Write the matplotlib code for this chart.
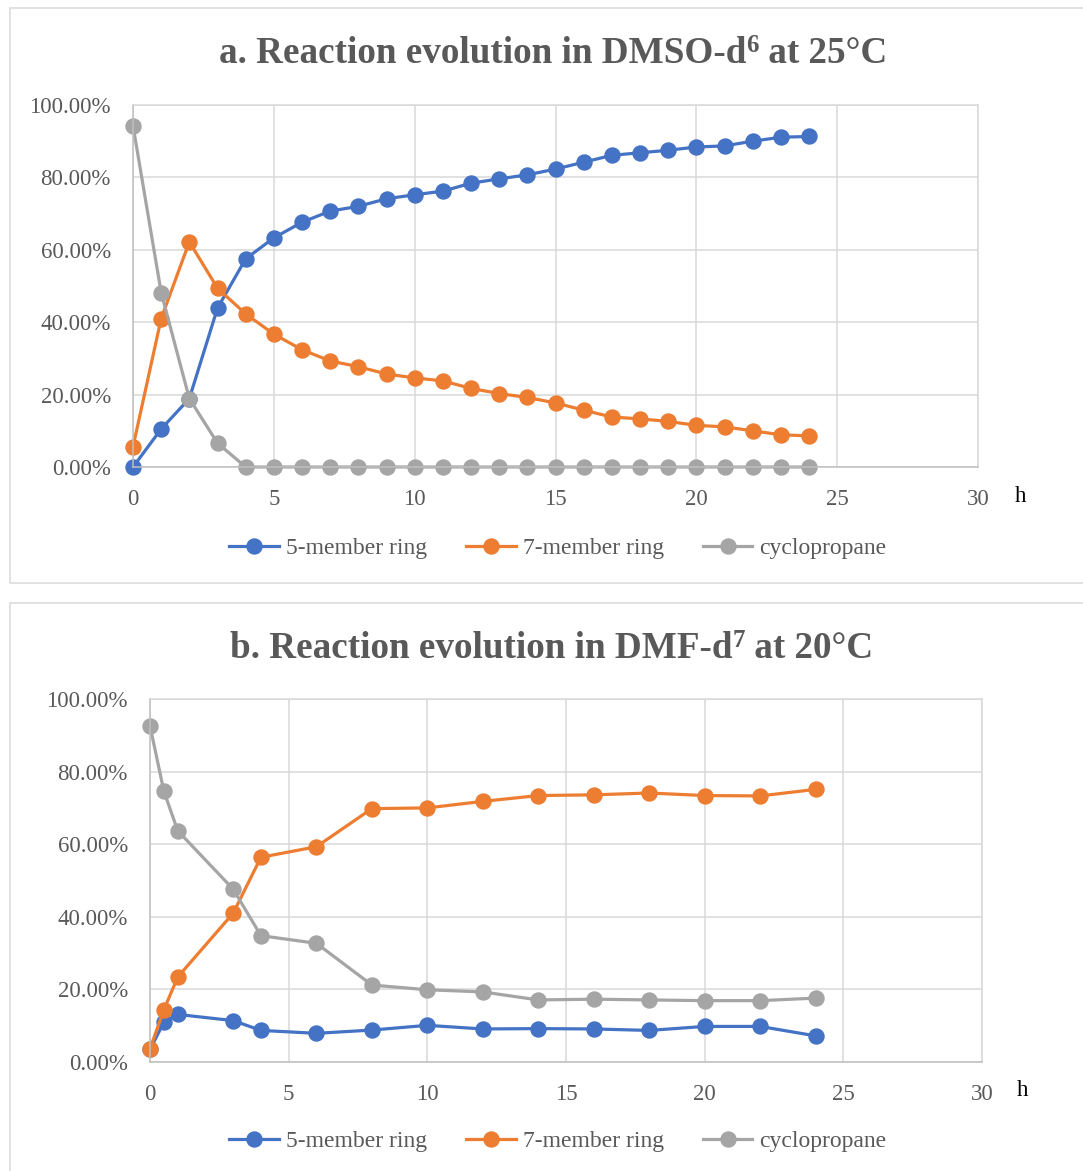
import matplotlib
matplotlib.use('Agg')
import matplotlib.pyplot as plt
from matplotlib.patches import Rectangle
from matplotlib.ticker import FuncFormatter

# ---------------- data ----------------
series_names = ["5-member ring", "7-member ring", "cyclopropane"]

# Panel a: DMSO-d6 at 25 °C
a_hours = [0, 1, 2, 3, 4, 5, 6, 7, 8, 9, 10, 11, 12, 13, 14, 15, 16, 17, 18, 19, 20, 21, 22, 23, 24]
a_five = [0.0, 10.5, 18.9, 43.9, 57.5, 63.3, 67.6, 70.7, 72.0, 74.1, 75.2, 76.2, 78.4, 79.6, 80.7,
          82.3, 84.2, 86.1, 86.8, 87.5, 88.4, 88.7, 90.0, 91.1, 91.3]
a_seven = [5.6, 41.0, 62.2, 49.4, 42.3, 36.7, 32.4, 29.3, 27.7, 25.7, 24.6, 23.8, 21.7, 20.3, 19.2,
           17.7, 15.7, 13.8, 13.3, 12.6, 11.5, 11.1, 10.0, 8.9, 8.6]
a_cyclo = [94.3, 48.2, 18.9, 6.6, 0, 0, 0, 0, 0, 0, 0, 0, 0, 0, 0, 0, 0, 0, 0, 0, 0, 0, 0, 0, 0]

# Panel b: DMF-d7 at 20 °C
b_hours = [0, 0.5, 1, 3, 4, 6, 8, 10, 12, 14, 16, 18, 20, 22, 24]
b_five = [3.5, 10.9, 13.1, 11.4, 8.7, 7.9, 8.8, 10.1, 9.1, 9.2, 9.1, 8.7, 9.8, 9.8, 7.2]
b_seven = [3.6, 14.4, 23.4, 41.0, 56.4, 59.3, 69.8, 70.0, 71.8, 73.4, 73.6, 74.1, 73.4, 73.3, 75.1]
b_cyclo = [92.6, 74.6, 63.7, 47.6, 34.8, 32.7, 21.2, 19.9, 19.3, 17.1, 17.3, 17.1, 16.9, 16.9, 17.6]

x_ticks = [0, 5, 10, 15, 20, 25, 30]
y_ticks = [0, 20, 40, 60, 80, 100]

# ---------------- style ----------------
W, H = 1083, 1171
FONT = 'Liberation Serif'
plt.rcParams['font.family'] = [FONT, 'DejaVu Serif']
COLORS = ['#4472C4', '#ED7D31', '#A5A5A5']
TXT = '#595959'
GRID = '#D9D9D9'
AXIS = '#BFBFBF'

fig = plt.figure(figsize=(W / 100, H / 100), dpi=100)


def fx(px):
    return px / W


def fy(py):
    return 1 - py / H


def box(x0, y0, x1, y1):
    fig.patches.append(Rectangle((fx(x0), fy(y1)), fx(x1) - fx(x0), fy(y0) - fy(y1),
                                 transform=fig.transFigure, fill=False,
                                 edgecolor=GRID, linewidth=1.1, zorder=0))


def title(xc, yb, parts):
    r = fig.canvas.get_renderer()
    objs = []
    for txt, sup in parts:
        t = fig.text(0, 0, txt, fontsize=18 if sup else 26.7, fontweight='bold',
                     color=TXT, va='baseline', ha='left')
        objs.append((t, sup))
    widths = [t.get_window_extent(r).width for t, _ in objs]
    x = xc - sum(widths) / 2
    for (t, sup), w in zip(objs, widths):
        t.set_position((fx(x), fy(yb - (11 if sup else 0))))
        x += w


def panel(rect, hours, five, seven, cyclo):
    ax = fig.add_axes(rect)
    for vals, c, name in zip([five, seven, cyclo], COLORS, series_names):
        ax.plot(hours, vals, color=c, lw=2.3, marker='o', ms=10.8, label=name,
                solid_joinstyle='round', clip_on=False)
    ax.set_xlim(0, 30)
    ax.set_ylim(0, 100)
    ax.set_xticks(x_ticks)
    ax.set_yticks(y_ticks)
    ax.yaxis.set_major_formatter(FuncFormatter(lambda v, p: f"{v:.2f}%"))
    ax.grid(True, color=GRID, lw=1.1)
    ax.set_axisbelow(True)
    for s in ['top', 'right']:
        ax.spines[s].set_color(GRID)
        ax.spines[s].set_linewidth(1.1)
    for s in ['left', 'bottom']:
        ax.spines[s].set_color(AXIS)
        ax.spines[s].set_linewidth(1.1)
    ax.tick_params(length=0, labelsize=16.5, labelcolor=TXT)
    ax.tick_params(axis='y', pad=16)
    ax.tick_params(axis='x', pad=15.5)
    return ax


# ---------------- panel a ----------------
box(10, 8, 1100, 583)
axa = panel([fx(133), fy(467), fx(978) - fx(133), fy(105) - fy(467)],
            a_hours, a_five, a_seven, a_cyclo)
title(553, 63, [("a. Reaction evolution in DMSO-d", False), ("6", True), (" at 25\u00b0C", False)])
fig.text(fx(1021), fy(496), "h", fontsize=16.5, color='black', ha='center', va='center')

# ---------------- panel b ----------------
box(10, 603, 1100, 1200)
axb = panel([fx(150), fy(1062), fx(982) - fx(150), fy(699) - fy(1062)],
            b_hours, b_five, b_seven, b_cyclo)
title(552, 658, [("b. Reaction evolution in DMF-d", False), ("7", True), (" at 20\u00b0C", False)])
fig.text(fx(1023), fy(1090), "h", fontsize=16.5, color='black', ha='center', va='center')

for ax, ly in [(axa, 548), (axb, 1141)]:
    handles, labels = ax.get_legend_handles_labels()
    leg = fig.legend(handles, labels, loc='center', bbox_to_anchor=(fx(558), fy(ly)),
                     ncol=3, frameon=False, fontsize=17, handlelength=2.1,
                     handletextpad=0.3, columnspacing=1.65, numpoints=1,
                     labelcolor=TXT, borderpad=0, borderaxespad=0)

fig.savefig('out.png', dpi=100)
